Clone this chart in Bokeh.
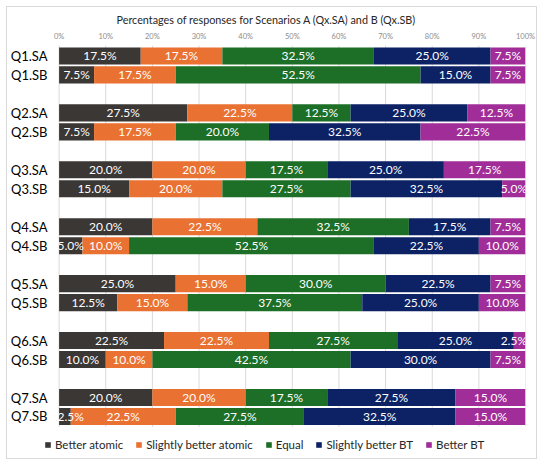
from bokeh.plotting import figure
from bokeh.models import (ColumnDataSource, Range1d, FixedTicker, PrintfTickFormatter,
                          LinearAxis, Legend, LegendItem)
from bokeh.core.properties import value
from bokeh.embed import file_html
from bokeh.resources import INLINE

# ---- data ----
row_labels = ["Q1.SA", "Q1.SB", "Q2.SA", "Q2.SB", "Q3.SA", "Q3.SB", "Q4.SA",
              "Q4.SB", "Q5.SA", "Q5.SB", "Q6.SA", "Q6.SB", "Q7.SA", "Q7.SB"]
categories = ["Better atomic", "Slightly better atomic", "Equal",
              "Slightly better BT", "Better BT"]
better_atomic = [17.5, 7.5, 27.5, 7.5, 20.0, 15.0, 20.0, 5.0, 25.0, 12.5, 22.5, 10.0, 20.0, 2.5]
slightly_atomic = [17.5, 17.5, 22.5, 17.5, 20.0, 20.0, 22.5, 10.0, 15.0, 15.0, 22.5, 10.0, 20.0, 22.5]
equal = [32.5, 52.5, 12.5, 20.0, 17.5, 27.5, 32.5, 52.5, 30.0, 37.5, 27.5, 42.5, 17.5, 27.5]
slightly_bt = [25.0, 15.0, 25.0, 32.5, 25.0, 32.5, 17.5, 22.5, 22.5, 25.0, 25.0, 30.0, 27.5, 32.5]
better_bt = [7.5, 7.5, 12.5, 22.5, 17.5, 5.0, 7.5, 10.0, 7.5, 10.0, 2.5, 7.5, 15.0, 15.0]
x_ticks = [0, 10, 20, 30, 40, 50, 60, 70, 80, 90, 100]
title_text = "Percentages of responses for Scenarios A (Qx.SA) and B (Qx.SB)"

colors = ["#3B3735", "#E97132", "#1D6F27", "#0C2265", "#A12E98"]
FONT = "Lato"

series = [better_atomic, slightly_atomic, equal, slightly_bt, better_bt]
# y position: 3 slots per question group, SA then SB
ypos = [(i // 2) * 3 + (i % 2) for i in range(len(row_labels))]

data = {"y": ypos}
for c, s in zip(categories, series):
    data[c] = s
source = ColumnDataSource(data)

grid_top = min(ypos) - 0.55
grid_bottom = max(ypos) + 0.55

p = figure(width=531, height=453, output_backend="svg", toolbar_location=None,
           x_range=Range1d(-5.06, 100), y_range=Range1d(21.32, grid_top),
           x_axis_location=None, y_axis_location="left",
           min_border_left=26, min_border_right=13, min_border_top=38,
           min_border_bottom=0)
p.styles = {"border": "1px solid #d9d9d9", "margin-left": "6px", "margin-top": "6px"}
p.outline_line_color = None
p.background_fill_color = "white"
p.xgrid.grid_line_color = None
p.ygrid.grid_line_color = None

# vertical gridlines limited to the bar area
p.segment(x0=x_ticks, x1=x_ticks, y0=[grid_top] * len(x_ticks),
          y1=[grid_bottom] * len(x_ticks), line_color="#d9d9d9", line_width=1)

renderers = p.hbar_stack(categories, y="y", height=0.9, color=colors,
                         line_color=None, source=source)

# labels
lx, ly, lt = [], [], []
for i in range(len(row_labels)):
    left = 0.0
    for s in series:
        v = s[i]
        c = left + v / 2.0
        c = min(max(c, 2.5), 97.5)
        lx.append(c)
        ly.append(ypos[i])
        lt.append(f"{v:.1f}%")
        left += v
p.text(x="x", y="y", text="t", source=ColumnDataSource(dict(x=lx, y=ly, t=lt)),
       text_color="white", text_align="center", text_baseline="middle",
       text_font=value(FONT), text_font_size="12px")

# top axis
ax = LinearAxis(ticker=FixedTicker(ticks=x_ticks),
                formatter=PrintfTickFormatter(format="%d%%"))
ax.axis_line_color = None
ax.major_tick_line_color = None
ax.minor_tick_line_color = None
ax.major_tick_out = 0
ax.major_tick_in = 0
ax.major_label_standoff = 5
ax.major_label_text_font = FONT
ax.major_label_text_font_size = "7.5px"
ax.major_label_text_color = "#8c8c8c"
p.add_layout(ax, "above")

ya = p.yaxis[0]
ya.ticker = FixedTicker(ticks=ypos)
ya.major_label_overrides = {y: lab for y, lab in zip(ypos, row_labels)}
ya.axis_line_color = None
ya.major_tick_line_color = None
ya.minor_tick_line_color = None
ya.major_tick_out = 0
ya.major_tick_in = 0
ya.major_label_standoff = -12
ya.major_label_text_font = FONT
ya.major_label_text_font_size = "13px"
ya.major_label_text_color = "#000000"

p.title.text = title_text
p.title.align = "left"
p.title.offset = 81
p.title.text_font = FONT
p.title.text_font_size = "10.8px"
p.title.text_font_style = "normal"
p.title.text_color = "#262626"
p.title.standoff = 6

legend = Legend(items=[LegendItem(label=c, renderers=[r]) for c, r in zip(categories, renderers)],
                orientation="horizontal", location=(9, 8.5),
                glyph_width=7, glyph_height=7, label_standoff=4, spacing=12,
                padding=0, margin=0, border_line_color=None,
                background_fill_alpha=0, label_text_font=FONT,
                label_text_font_size="11.5px", label_text_color="#262626",
                label_height=14)
p.add_layout(legend, "center")

open("out.html", "w").write(file_html(p, INLINE))
